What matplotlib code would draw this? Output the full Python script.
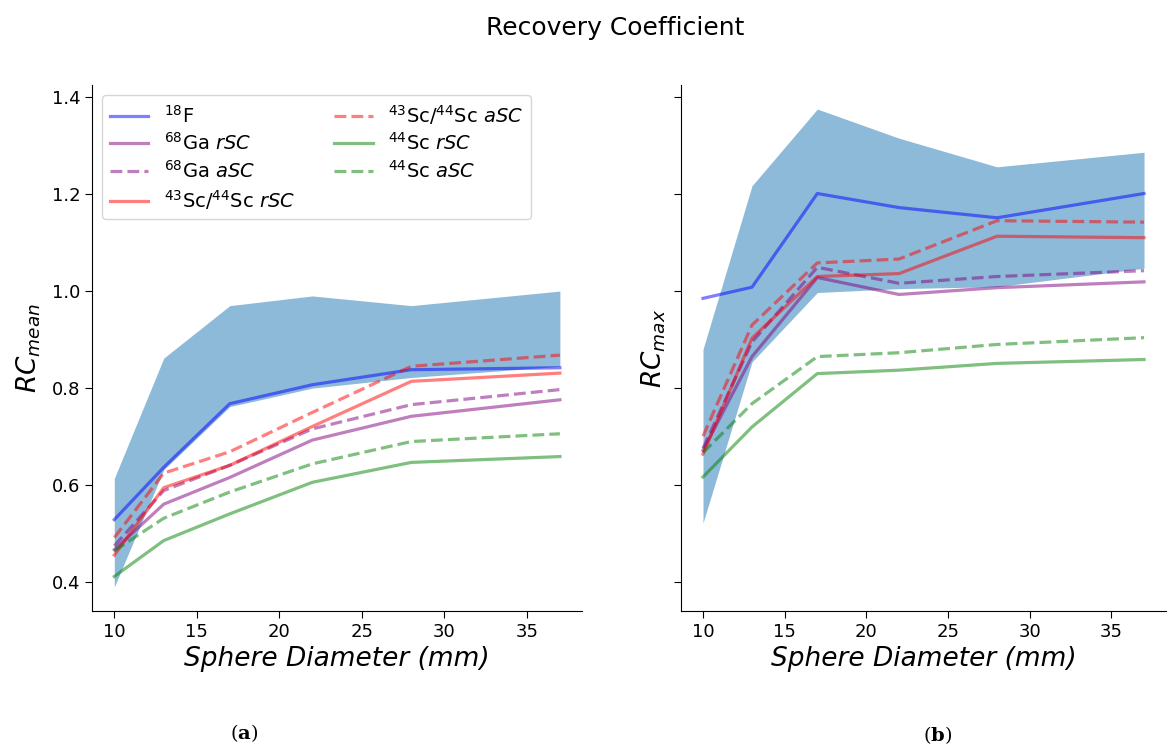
import matplotlib
matplotlib.use("Agg")
import matplotlib.pyplot as plt
import numpy as np

# sphere diameters (mm)
diam = [10, 13, 17, 22, 28, 37]

# RC mean (panel a)
f18_mean = [0.529, 0.637, 0.768, 0.807, 0.838, 0.842]
f18_mean_lo = [0.39, 0.632, 0.762, 0.800, 0.822, 0.845]
f18_mean_hi = [0.614, 0.862, 0.970, 0.990, 0.970, 1.000]
ga_rsc_mean = [0.467, 0.561, 0.616, 0.693, 0.742, 0.776]
ga_asc_mean = [0.475, 0.589, 0.641, 0.716, 0.766, 0.797]
scsc_rsc_mean = [0.456, 0.595, 0.641, 0.721, 0.814, 0.831]
scsc_asc_mean = [0.492, 0.625, 0.669, 0.750, 0.845, 0.868]
sc_rsc_mean = [0.412, 0.486, 0.541, 0.606, 0.647, 0.659]
sc_asc_mean = [0.465, 0.532, 0.586, 0.644, 0.690, 0.706]

# RC max (panel b)
f18_max = [0.985, 1.008, 1.201, 1.172, 1.151, 1.201]
f18_max_lo = [0.522, 0.854, 0.997, 1.005, 1.009, 1.047]
f18_max_hi = [0.880, 1.217, 1.375, 1.315, 1.256, 1.286]
ga_rsc_max = [0.672, 0.865, 1.028, 0.993, 1.007, 1.019]
ga_asc_max = [0.676, 0.895, 1.049, 1.016, 1.030, 1.042]
scsc_rsc_max = [0.664, 0.903, 1.030, 1.036, 1.113, 1.110]
scsc_asc_max = [0.701, 0.930, 1.058, 1.066, 1.145, 1.142]
sc_rsc_max = [0.617, 0.720, 0.830, 0.837, 0.851, 0.859]
sc_asc_max = [0.667, 0.768, 0.865, 0.873, 0.890, 0.904]

labels = [r'$^{18}$F', r'$^{68}$Ga $rSC$', r'$^{68}$Ga $aSC$',
          r'$^{43}$Sc/$^{44}$Sc $rSC$', r'$^{43}$Sc/$^{44}$Sc $aSC$',
          r'$^{44}$Sc $rSC$', r'$^{44}$Sc $aSC$']
colors = ['blue', 'purple', 'purple', 'red', 'red', 'green', 'green']
styles = ['-', '-', '--', '-', '--', '-', '--']

mean_series = [f18_mean, ga_rsc_mean, ga_asc_mean, scsc_rsc_mean,
               scsc_asc_mean, sc_rsc_mean, sc_asc_mean]
max_series = [f18_max, ga_rsc_max, ga_asc_max, scsc_rsc_max,
              scsc_asc_max, sc_rsc_max, sc_asc_max]

fig = plt.figure(figsize=(11.69, 7.47), dpi=100)
ax1 = fig.add_axes([0.0787, 0.182, 0.4193, 0.704])
ax2 = fig.add_axes([0.5825, 0.182, 0.4150, 0.704], sharey=ax1)


def draw(ax, series, lo, hi):
    ax.fill_between(diam, lo, hi, color='tab:blue', alpha=0.5, linewidth=0)
    for ys, c, ls, lab in zip(series, colors, styles, labels):
        ax.plot(diam, ys, color=c, linestyle=ls, alpha=0.5, linewidth=2.3,
                label=lab)
    ax.spines['top'].set_visible(False)
    ax.spines['right'].set_visible(False)
    ax.set_xticks([10, 15, 20, 25, 30, 35])
    ax.tick_params(labelsize=13, length=5)
    ax.set_xlabel('Sphere Diameter (mm)', fontsize=19, fontstyle='italic')


draw(ax1, mean_series, f18_mean_lo, f18_mean_hi)
draw(ax2, max_series, f18_max_lo, f18_max_hi)

ax1.set_yticks([0.4, 0.6, 0.8, 1.0, 1.2, 1.4])
ax1.set_ylabel(r'$RC_{mean}$', fontsize=19, labelpad=6)
ax2.set_ylabel(r'$RC_{max}$', fontsize=19)
ax2.tick_params(labelleft=False)

ax1.legend(loc='upper left', ncol=2, fontsize=14, labelspacing=0.3,
           columnspacing=2.0)

fig.text(0.526, 0.962, 'Recovery Coefficient', fontsize=18,
         ha='center', va='center')
fig.text(0.209, 0.019, r'$(\mathbf{a})$', fontsize=14, ha='center',
         va='center', math_fontfamily='dejavuserif')
fig.text(0.802, 0.016, r'$(\mathbf{b})$', fontsize=14, ha='center',
         va='center', math_fontfamily='dejavuserif')

fig.savefig('out.png', dpi=100)
